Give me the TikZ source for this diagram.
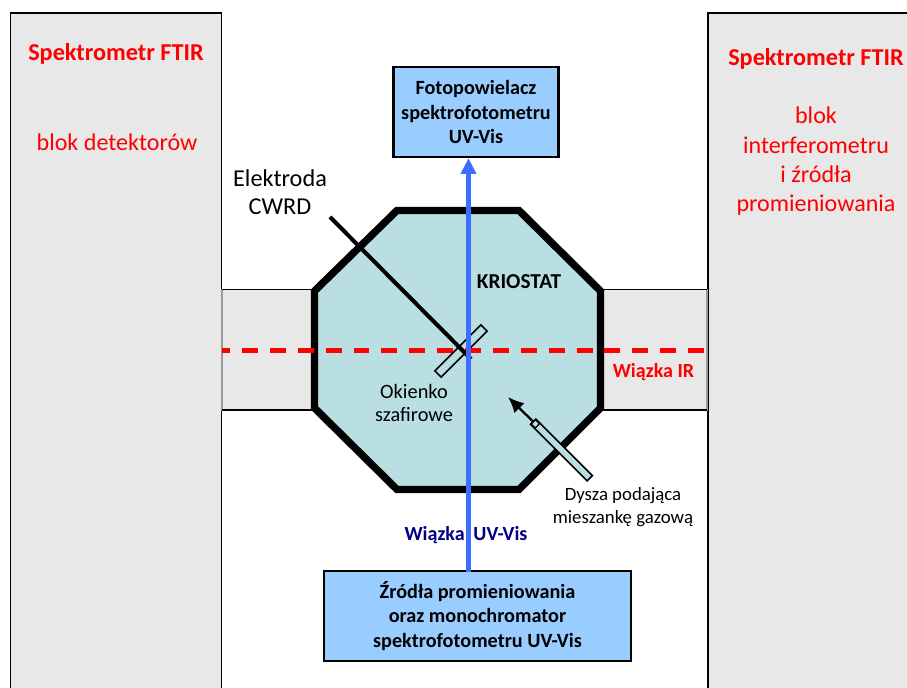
\documentclass[tikz,border=0pt]{standalone}
\usepackage{fontspec}
\setmainfont{Carlito}
\usepackage{xcolor}
\usetikzlibrary{arrows.meta,calc}
\definecolor{panelgrey}{HTML}{E8E8E8}
\definecolor{cryofill}{HTML}{B9DFE3}
\definecolor{boxblue}{HTML}{99CCFF}
\definecolor{beamblue}{HTML}{3C6EFF}
\definecolor{beamred}{HTML}{FF0000}
\definecolor{uvnavy}{HTML}{000080}
\definecolor{greyline}{HTML}{9A9A9A}

\begin{document}
\begin{tikzpicture}[
    x=0.02cm, y=-0.02cm,
    panel/.style={draw=black, line width=1pt, fill=panelgrey},
    port/.style={draw=greyline, line width=0.6pt, fill=panelgrey},
    boxnode/.style={draw=black, line width=1.3pt, fill=boxblue, inner sep=0pt, align=center, font=\fontsize{11.5}{13.9}\selectfont\bfseries},
    redtitle/.style={text=beamred, font=\fontsize{13.8}{16}\selectfont\bfseries, align=center},
    redtext/.style={text=beamred, font=\fontsize{13.7}{16.7}\selectfont, align=center},
    lbl/.style={align=center, font=\fontsize{11.6}{13.6}\selectfont},
    glass/.style={draw=black, line width=0.9pt, inner sep=0pt}
]
\useasboundingbox (0,0) rectangle (907,688);

% Spectrometer blocks
\draw[panel] (10.5,695) -- (10.5,13) -- (221.5,13) -- (221.5,695);
\draw[panel] (708,695) -- (708,13) -- (912,13);
\fill[panelgrey] (708.5,14) rectangle (907,688);
\draw[port] (222,289.5) rectangle (315,410);
\draw[port] (603,289.5) rectangle (707,410);
\draw[line width=1pt] (222,289.5) -- (315,289.5) (222,410) -- (315,410) (603,289.5) -- (707,289.5) (603,410) -- (707,410);
\node[redtitle] (titleL) at (116,54) {Spektrometr FTIR};
\node[redtext] (blockL) at (117,142) {blok detektorów};
\node[redtitle] (titleR) at (816,59) {Spektrometr FTIR};
\node[redtext] (blockR) at (816,161.5) {blok\\interferometru\\i źródła\\promieniowania};

% Cryostat
\draw[line width=4.2pt, fill=cryofill, line join=miter] (397,210.5) -- (519,210.5) -- (600.5,291) -- (600.5,408) -- (519,489.5) -- (397,489.5) -- (314.5,408) -- (314.5,291) -- cycle;
\node[font=\fontsize{12.1}{14}\selectfont\bfseries] (cryo) at (519,282) {KRIOSTAT};

% IR beam
\coordinate (irL) at (222,350.5);
\coordinate (irR) at (706.5,350.5);
\draw[beamred, line width=2.4pt, dash pattern=on 9.07pt off 6.8pt, dash phase=4.5pt] (irL) -- (irR);
\node[font=\fontsize{11.4}{14}\selectfont\bfseries, text=beamred] (irlabel) at (653.5,372.5) {Wiązka IR};

% Sapphire window and electrode
\node[glass, rotate=45, minimum width=1.3cm, minimum height=0.18cm] (window) at (461,351) {};
\coordinate (elecA) at (330,217);
\coordinate (elecB) at (471,359);
\draw[line width=2.3pt] (elecA) -- (elecB);
\node[lbl, font=\fontsize{13.8}{16}\selectfont] (eleclabel) at (280,192) {Elektroda\\CWRD};
\node[lbl] (winlabel) at (414,403) {Okienko\\szafirowe};

% Gas nozzle
\node[glass, rotate=-45, minimum width=1.6cm, minimum height=0.15cm, fill=cryofill] (nozzle) at (561.5,450) {};
\node[glass, rotate=-45, minimum width=0.12cm, minimum height=0.12cm, anchor=west, line width=0.7pt] (nozzletip) at (nozzle.west) {};
\coordinate (gasjet) at (508,397);
\draw[-{Latex[length=9pt,width=8pt]}, line width=1.3pt] (nozzletip.west) -- (gasjet);
\node[lbl, font=\fontsize{10.7}{13}\selectfont] (nozzlelabel) at (623,507) {Dysza podająca\\mieszankę gazową};

% Boxes and UV-Vis beam
\node[boxnode, minimum width=3.3cm, minimum height=1.8cm] (pmt) at (476,112) {Fotopowielacz\\spektrofotometru\\UV-Vis};
\node[boxnode, minimum width=6.14cm, minimum height=1.81cm] (source) at (477.5,616) {Źródła promieniowania\\oraz monochromator\\spektrofotometru UV-Vis};
\coordinate (uvstart) at (468.5,572);
\draw[-{Triangle[length=9pt,width=8.5pt]}, beamblue, line width=2.4pt] (uvstart) -- (uvstart |- pmt.south);
\node[font=\fontsize{11.4}{14}\selectfont\bfseries, text=uvnavy] (uvlabel) at (466,535) {Wiązka\hspace{0.9ex}UV-Vis};
\end{tikzpicture}
\end{document}
